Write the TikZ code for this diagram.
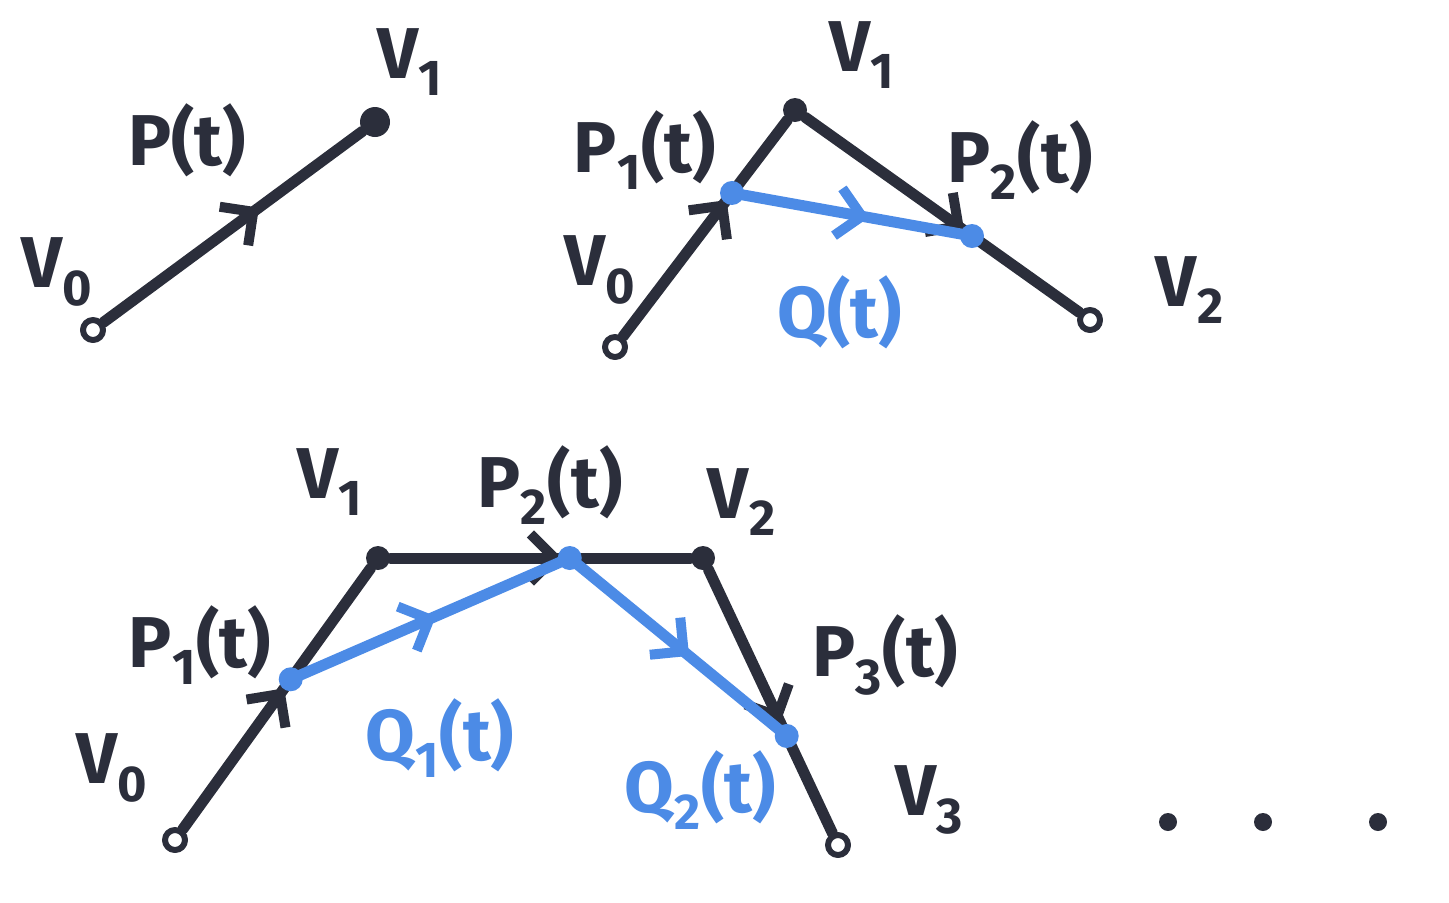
\documentclass[tikz,border=0pt]{standalone}
\usepackage{fontspec}
\setmainfont{Fira Sans}
\usetikzlibrary{arrows.meta,decorations.markings,calc}
\definecolor{ink}{HTML}{2B2E3B}
\definecolor{pen}{HTML}{4C8BE6}

\begin{document}
\begin{tikzpicture}[
    x=0.5pt, y=-0.5pt,
    line cap=round, line join=round,
    seg/.style={draw=ink, line width=5.5pt},
    bseg/.style={draw=pen, line width=5.5pt},
    arrowat/.style={postaction={decorate}, decoration={markings,
        mark=at position #1 with {\arrow{Straight Barb[length=12pt, width=24pt, line width=5pt]}}}},
    vopen/.style={circle, draw=ink, fill=white, line width=3pt, inner sep=0pt, minimum size=10pt},
    vdot/.style={circle, fill=ink, inner sep=0pt, minimum size=12pt},
    ptdot/.style={circle, fill=pen, inner sep=0pt, minimum size=12pt},
    lbl/.style={text=ink, font=\fontsize{36}{42}\selectfont\bfseries, inner sep=0pt},
    blbl/.style={lbl, text=pen}
]
    \useasboundingbox (0,0) rectangle (1449,902);

    % Linear: one segment
    \node[vopen] (a0) at (93,330) {};
    \node[vdot, minimum size=15pt] (a1) at (375,122) {};
    \draw[seg, arrowat=0.6] (a0) -- (a1);
    \node[lbl] (la0) at (57,272) {V\textsubscript{0}};
    \node[lbl] (la1) at (410,62) {V\textsubscript{1}};
    \node[lbl] (lap) at (187,140) {P(t)};

    % Quadratic
    \node[vopen] (b0) at (615,347) {};
    \node[vdot] (b1) at (795,110) {};
    \node[vopen] (b2) at (1090,320) {};
    \coordinate (bp1) at ($(b0)!0.65!(b1)$);
    \coordinate (bp2) at ($(b1)!0.6!(b2)$);
    \draw[seg, arrowat=0.63] (b0) -- (b1);
    \draw[seg, arrowat=0.58] (b1) -- (b2);
    \draw[bseg, arrowat=0.57, color=pen] (bp1) -- (bp2);
    \node[ptdot] at (bp1) {};
    \node[ptdot] at (bp2) {};
    \node[lbl] (lb0) at (600,270) {V\textsubscript{0}};
    \node[lbl] (lb1) at (862,55) {V\textsubscript{1}};
    \node[lbl] (lb2) at (1190,290) {V\textsubscript{2}};
    \node[lbl] (lbp1) at (645,150) {P\textsubscript{1}(t)};
    \node[lbl] (lbp2) at (1020,160) {P\textsubscript{2}(t)};
    \node[blbl] (lbq) at (840,312) {Q(t)};

    % Cubic
    \node[vopen] (c0) at (175,840) {};
    \node[vdot] (c1) at (378,558) {};
    \node[vdot] (c2) at (703,558) {};
    \node[vopen] (c3) at (838,845) {};
    \coordinate (cp1) at ($(c0)!0.57!(c1)$);
    \coordinate (cp2) at ($(c1)!0.59!(c2)$);
    \coordinate (cp3) at ($(c2)!0.62!(c3)$);
    \draw[seg, arrowat=0.54] (c0) -- (c1);
    \draw[seg, arrowat=0.57] (c1) -- (c2);
    \draw[seg, arrowat=0.58] (c2) -- (c3);
    \draw[bseg, arrowat=0.52, color=pen] (cp1) -- (cp2);
    \draw[bseg, arrowat=0.55, color=pen] (cp2) -- (cp3);
    \node[ptdot] at (cp1) {};
    \node[ptdot] at (cp2) {};
    \node[ptdot] at (cp3) {};
    \node[lbl] (lc0) at (112,768) {V\textsubscript{0}};
    \node[lbl] (lc1) at (330,482) {V\textsubscript{1}};
    \node[lbl] (lc2) at (742,502) {V\textsubscript{2}};
    \node[lbl] (lc3) at (930,800) {V\textsubscript{3}};
    \node[lbl] (lcp1) at (200,645) {P\textsubscript{1}(t)};
    \node[lbl] (lcp2) at (550,485) {P\textsubscript{2}(t)};
    \node[lbl] (lcp3) at (885,655) {P\textsubscript{3}(t)};
    \node[blbl] (lcq1) at (440,738) {Q\textsubscript{1}(t)};
    \node[blbl] (lcq2) at (700,790) {Q\textsubscript{2}(t)};

    % ...
    \foreach \x [count=\i] in {1168,1263,1378}
        \node[vdot, minimum size=9pt] (dot\i) at (\x,822) {};
\end{tikzpicture}
\end{document}
